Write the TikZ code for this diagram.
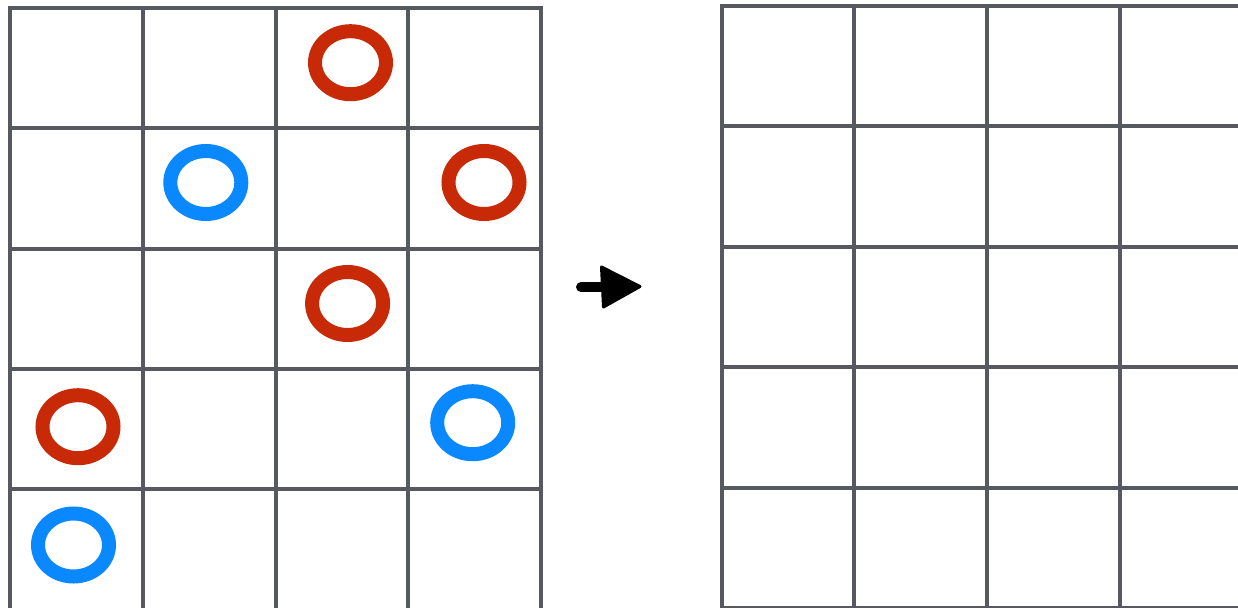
\documentclass[tikz,border=0pt]{standalone}
\usetikzlibrary{shapes.geometric}
\definecolor{gridgray}{HTML}{565A60}
\definecolor{redring}{HTML}{C82A08}
\definecolor{bluering}{HTML}{0A88FF}
\begin{document}
\begin{tikzpicture}[x=1pt,y=-1pt,
  gridline/.style={draw=gridgray,line width=4pt,line cap=rect},
  ring/.style={ellipse,draw,line width=14pt,minimum width=71pt,minimum height=63pt,inner sep=0pt,outer sep=0pt},
  redr/.style={ring,draw=redring},
  bluer/.style={ring,draw=bluering},
  arrowpart/.style={draw=black,fill=black,line join=round,line width=3pt}]
\useasboundingbox (0,0) rectangle (1238,607);
\fill[white] (0,0) rectangle (1238,607);
\clip (0,0) rectangle (1238,607);
% left grid
\foreach \i in {0,...,4} \draw[gridline] ({10+\i*132.75},8) -- ({10+\i*132.75},620);
\foreach \j in {0,...,4} \draw[gridline] (10,{8+\j*120.25}) -- (541,{8+\j*120.25});
% right grid
\foreach \i in {0,...,4} \draw[gridline] ({721.5+\i*132.8},6) -- ({721.5+\i*132.8},620);
\foreach \j in {0,...,5} \draw[gridline] (721.5,{6+\j*120.4}) -- (1260,{6+\j*120.4});
% rings
\node[redr]  (r1) at (350.5,62.7) {};
\node[bluer] (b1) at (205.8,182.5) {};
\node[redr]  (r2) at (484,182.5) {};
\node[redr]  (r3) at (347.6,303.5) {};
\node[redr]  (r4) at (78,426.7) {};
\node[bluer] (b2) at (472.7,422.7) {};
\node[bluer] (b3) at (73.5,545) {};
% arrow
\coordinate (as) at (581,287);
\coordinate (ae) at (640,286.5);
\draw[line width=10pt,line cap=round] (as) -- (606,287);
\path[arrowpart] (601.5,267) -- (ae) -- (603.5,307) -- cycle;
\end{tikzpicture}
\end{document}
